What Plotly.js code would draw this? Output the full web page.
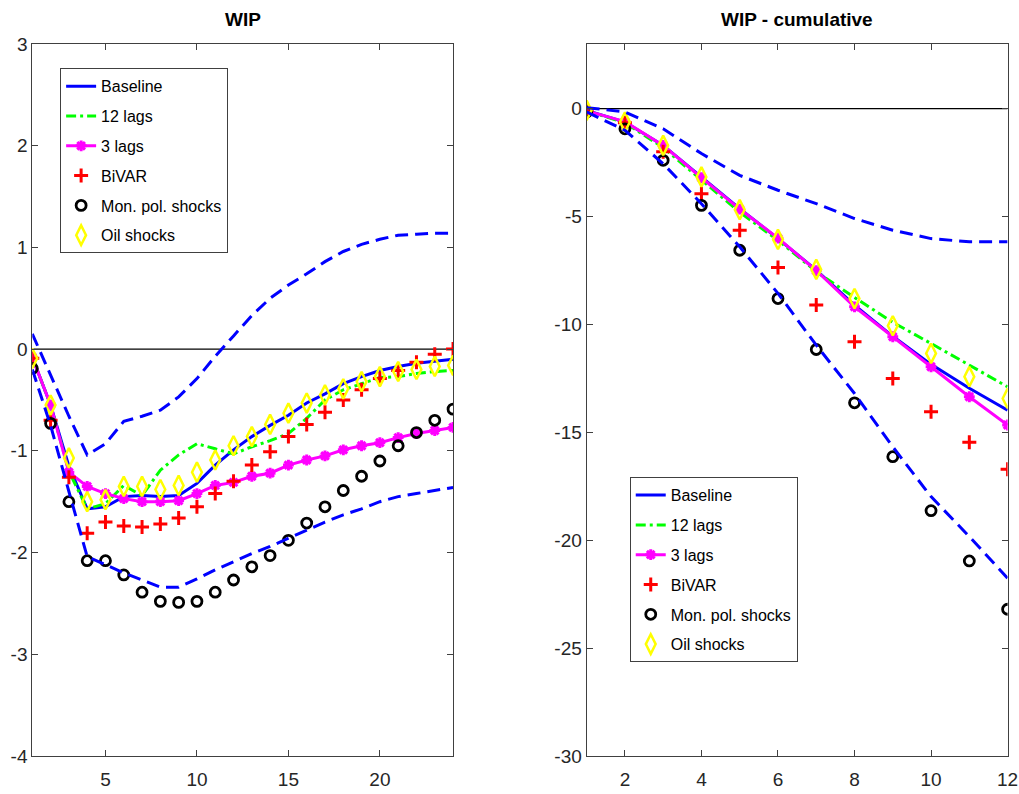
<!DOCTYPE html>
<html><head><meta charset="utf-8">
<script src="https://cdn.plot.ly/plotly-3.0.1.min.js"></script>
<style>html,body{margin:0;padding:0;background:#fff}#chart{width:1019px;height:794px}</style>
</head><body><div id="chart"></div>
<script>
// ---- Left panel: WIP ----
const horizonL = [1,2,3,4,5,6,7,8,9,10,11,12,13,14,15,16,17,18,19,20,21,22,23,24];
const baselineL = [-0.08,-0.55,-1.15,-1.57,-1.55,-1.45,-1.44,-1.45,-1.44,-1.32,-1.14,-0.99,-0.86,-0.75,-0.65,-0.53,-0.44,-0.34,-0.27,-0.21,-0.17,-0.14,-0.12,-0.10];
const lags12L   = [-0.08,-0.55,-1.20,-1.57,-1.52,-1.34,-1.44,-1.19,-1.04,-0.93,-0.98,-1.03,-0.96,-0.90,-0.83,-0.68,-0.50,-0.40,-0.34,-0.28,-0.27,-0.24,-0.22,-0.21];
const lags3L    = [-0.08,-0.55,-1.21,-1.35,-1.42,-1.47,-1.50,-1.50,-1.49,-1.42,-1.34,-1.31,-1.25,-1.22,-1.14,-1.09,-1.05,-0.99,-0.95,-0.92,-0.87,-0.83,-0.80,-0.77];
const bivarL    = [-0.09,-0.70,-1.26,-1.81,-1.70,-1.74,-1.75,-1.72,-1.66,-1.55,-1.42,-1.30,-1.14,-1.01,-0.86,-0.74,-0.62,-0.50,-0.40,-0.29,-0.21,-0.13,-0.05,0.00];
const monpolL   = [-0.19,-0.73,-1.50,-2.08,-2.08,-2.22,-2.39,-2.48,-2.49,-2.48,-2.39,-2.27,-2.14,-2.03,-1.88,-1.71,-1.55,-1.39,-1.25,-1.10,-0.95,-0.82,-0.70,-0.59];
const oilL      = [-0.09,-0.55,-1.07,-1.50,-1.48,-1.35,-1.35,-1.38,-1.34,-1.21,-1.09,-0.95,-0.86,-0.74,-0.63,-0.53,-0.45,-0.39,-0.32,-0.27,-0.22,-0.20,-0.17,-0.16];
const upperL    = [0.15,-0.26,-0.66,-1.04,-0.93,-0.71,-0.66,-0.60,-0.47,-0.29,-0.07,0.13,0.33,0.50,0.63,0.74,0.86,0.96,1.03,1.08,1.12,1.13,1.14,1.14];
const lowerL    = [-0.20,-0.75,-1.40,-2.04,-2.12,-2.20,-2.27,-2.34,-2.34,-2.26,-2.17,-2.09,-2.01,-1.94,-1.86,-1.78,-1.70,-1.63,-1.57,-1.50,-1.45,-1.42,-1.39,-1.36];
const yTicksL   = [-4,-3,-2,-1,0,1,2,3];
const yLabelsL  = ['-4','-3','-2','-1','0','1','2','3'];
const xTicksL   = [5,10,15,20];

// ---- Right panel: WIP - cumulative ----
const horizonR = [1,2,3,4,5,6,7,8,9,10,11,12];
const baselineR = [-0.08,-0.62,-1.70,-3.16,-4.63,-6.02,-7.48,-9.10,-10.55,-11.85,-12.96,-13.97];
const lags12R   = [-0.10,-0.65,-1.80,-3.30,-4.80,-6.10,-7.55,-8.75,-9.90,-10.88,-11.88,-12.89];
const lags3R    = [-0.10,-0.60,-1.70,-3.20,-4.65,-6.00,-7.50,-9.18,-10.57,-11.96,-13.35,-14.66];
const bivarR    = [-0.10,-0.65,-2.00,-3.94,-5.63,-7.36,-9.10,-10.80,-12.50,-14.04,-15.46,-16.71];
const monpolR   = [-0.15,-0.93,-2.39,-4.48,-6.56,-8.80,-11.16,-13.63,-16.13,-18.63,-20.96,-23.20];
const oilR      = [-0.08,-0.62,-1.70,-3.16,-4.68,-6.06,-7.45,-8.80,-10.06,-11.34,-12.42,-13.43];
const upperR    = [0.05,-0.15,-0.93,-2.08,-3.09,-3.78,-4.40,-5.09,-5.63,-6.02,-6.17,-6.17];
const lowerR    = [-0.15,-1.00,-2.55,-4.40,-6.40,-8.56,-10.96,-13.20,-15.67,-17.98,-19.83,-21.76];
const yTicksR   = [-30,-25,-20,-15,-10,-5,0];
const yLabelsR  = ['-30','-25','-20','-15','-10','-5','0'];
const xTicksR   = [2,4,6,8,10,12];

const seriesNames = ['Baseline','12 lags','3 lags','BiVAR','Mon. pol. shocks','Oil shocks'];
const titles = ['WIP','WIP - cumulative'];

const FONT = '"Liberation Sans", Arial, sans-serif';

function panel(x, d, xa, ya, leg) {
  const t = [];
  const g = (i) => leg + '_' + i;
  t.push({x:x, y:d.base, xaxis:xa, yaxis:ya, legend:leg, legendgroup:g(0), name:seriesNames[0], mode:'lines', line:{color:'#0000ff', width:3}});
  t.push({x:x, y:d.l12, xaxis:xa, yaxis:ya, legend:leg, legendgroup:g(1), name:seriesNames[1], mode:'lines', line:{color:'#00ff00', width:3, dash:'10px,4px,3px,4px'}});
  t.push({x:x, y:d.l3, xaxis:xa, yaxis:ya, legend:leg, legendgroup:g(2), name:seriesNames[2], mode:'lines+markers', line:{color:'#ff00ff', width:3},
          marker:{symbol:'asterisk-open', size:9, color:'#ff00ff', line:{color:'#ff00ff', width:3}}});
  t.push({x:x, y:d.biv, xaxis:xa, yaxis:ya, legend:leg, legendgroup:g(3), name:seriesNames[3], mode:'markers',
          marker:{symbol:'cross-thin-open', size:10, color:'#ff0000', line:{color:'#ff0000', width:3}}});
  t.push({x:x, y:d.mp, xaxis:xa, yaxis:ya, legend:leg, legendgroup:g(4), name:seriesNames[4], mode:'markers',
          marker:{symbol:'circle-open', size:10, color:'#000000', line:{color:'#000000', width:2.8}}});
  t.push({x:x, y:d.oil, xaxis:xa, yaxis:ya, legend:leg, legendgroup:g(5), name:seriesNames[5], mode:'markers',
          marker:{symbol:'diamond-tall-open', size:14, color:'#ffff00', line:{color:'#ffff00', width:2.5}}});
  t.push({x:x, y:d.up, xaxis:xa, yaxis:ya, showlegend:false, mode:'lines', line:{color:'#0000ff', width:3, dash:'13px,7px'}});
  t.push({x:x, y:d.lo, xaxis:xa, yaxis:ya, showlegend:false, mode:'lines', line:{color:'#0000ff', width:3, dash:'13px,7px'}});
  return t;
}

const traces = [].concat(
  panel(horizonL, {base:baselineL,l12:lags12L,l3:lags3L,biv:bivarL,mp:monpolL,oil:oilL,up:upperL,lo:lowerL}, 'x','y','legend'),
  panel(horizonR, {base:baselineR,l12:lags12R,l3:lags3R,biv:bivarR,mp:monpolR,oil:oilR,up:upperR,lo:lowerR}, 'x2','y2','legend2')
);

const axBase = {showgrid:false, zeroline:false, showline:true, linecolor:'#404040', linewidth:1, mirror:'ticks',
  ticks:'inside', ticklen:6, tickcolor:'#404040', tickfont:{family:FONT, size:19, color:'#262626'}};

const legBase = {font:{family:FONT, size:16, color:'#000'}, bgcolor:'#ffffff', bordercolor:'#404040', borderwidth:1,
  itemwidth:30, tracegroupgap:6, xanchor:'left', yanchor:'top'};

const layout = {
  width:1019, height:794, margin:{l:0,r:0,t:0,b:0}, paper_bgcolor:'#fff', plot_bgcolor:'#fff',
  xaxis: Object.assign({}, axBase, {domain:[0.0317,0.4446], range:[1,24], tickvals:xTicksL, anchor:'y', ticklabelstandoff:6}),
  yaxis: Object.assign({}, axBase, {domain:[0.0479,0.9446], range:[-4,3], tickvals:yTicksL, ticktext:yLabelsL, anchor:'x'}),
  xaxis2: Object.assign({}, axBase, {domain:[0.5757,0.9888], range:[1,12], tickvals:xTicksR, anchor:'y2', ticklabelstandoff:6}),
  yaxis2: Object.assign({}, axBase, {domain:[0.0479,0.9446], range:[-30,3], tickvals:yTicksR, ticktext:yLabelsR, anchor:'x2'}),
  showlegend:true,
  legend: Object.assign({}, legBase, {x:0.059, y:0.914}),
  legend2: Object.assign({}, legBase, {x:0.618, y:0.399}),
  shapes:[
    {type:'line', xref:'x', yref:'y', x0:1, x1:24, y0:0, y1:0, line:{color:'#000', width:1.3}, layer:'below'},
    {type:'line', xref:'x2', yref:'y2', x0:1, x1:12, y0:0, y1:0, line:{color:'#000', width:1.3}, layer:'below'}
  ],
  annotations:[
    {text:'<b>'+titles[0]+'</b>', xref:'paper', yref:'paper', x:0.238, y:0.975, xanchor:'center', yanchor:'middle', showarrow:false, font:{family:FONT, size:19, color:'#000'}},
    {text:'<b>'+titles[1]+'</b>', xref:'paper', yref:'paper', x:0.782, y:0.975, xanchor:'center', yanchor:'middle', showarrow:false, font:{family:FONT, size:19, color:'#000'}}
  ]
};

Plotly.newPlot('chart', traces, layout, {displayModeBar:false, staticPlot:true});
</script>
</body></html>
